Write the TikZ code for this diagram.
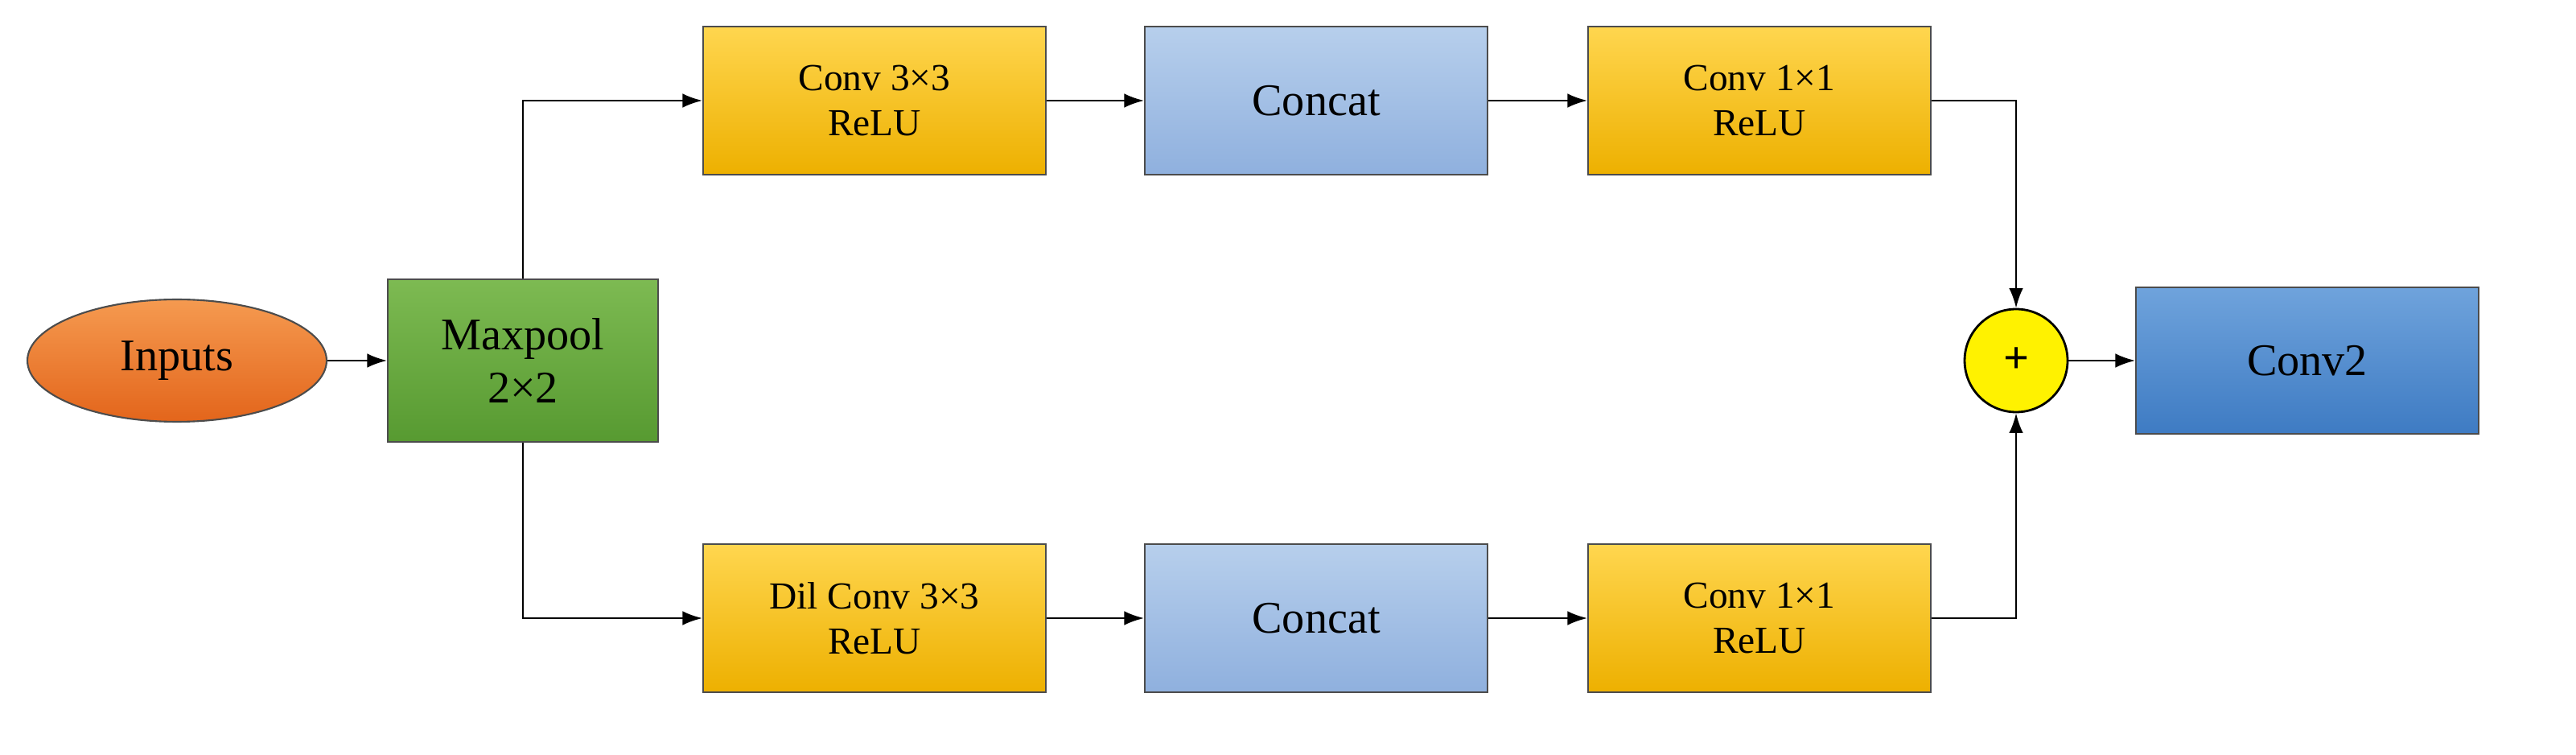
\documentclass[tikz,border=0pt]{standalone}
\usepackage{fontspec}
\setmainfont{Liberation Serif}
\usetikzlibrary{shapes.geometric,arrows.meta}
\begin{document}
\begin{tikzpicture}[x=0.02cm,y=-0.02cm,
 box/.style={draw=black!70,line width=0.6pt,minimum width=4.26cm,minimum height=1.84cm,align=center,inner sep=0pt},
 yel/.style={box,font=\fontsize{13.5pt}{16pt}\selectfont},
 blu/.style={box,font=\fontsize{16pt}{19pt}\selectfont},
 arr/.style={-{Latex[length=7pt,width=5pt]},line width=0.6pt}]
\useasboundingbox (0,0) rectangle (1601,469);
\definecolor{yt}{HTML}{FFD64F}\definecolor{yb}{HTML}{EDB000}
\definecolor{bt}{HTML}{B7CFEC}\definecolor{bb}{HTML}{8FB0DE}
\definecolor{ot}{HTML}{F59A50}\definecolor{ob}{HTML}{E3651B}
\definecolor{gt}{HTML}{7DBA52}\definecolor{gb}{HTML}{579A31}
\definecolor{ct}{HTML}{6FA3DC}\definecolor{cb}{HTML}{3E7BC3}
\tikzset{yel/.append style={top color=yt,bottom color=yb},blu/.append style={top color=bt,bottom color=bb}}
\node[ellipse,draw=black!70,line width=0.6pt,top color=ot,bottom color=ob,minimum width=3.72cm,minimum height=1.52cm,font=\fontsize{16pt}{19pt}\selectfont] (in) at (110,224) {Inputs};
\node[box,top color=gt,bottom color=gb,minimum width=3.36cm,minimum height=2.02cm,font=\fontsize{16pt}{19pt}\selectfont] (mp) at (325,224) {Maxpool\\2×2};
\node[yel] (c1) at (543.5,62.5) {Conv 3×3\\ReLU};
\node[blu] (k1) at (818,62.5) {Concat};
\node[yel] (d1) at (1093.5,62.5) {Conv 1×1\\ReLU};
\node[yel] (c2) at (543.5,384) {Dil Conv 3×3\\ReLU};
\node[blu] (k2) at (818,384) {Concat};
\node[yel] (d2) at (1093.5,384) {Conv 1×1\\ReLU};
\node[circle,draw=black,line width=0.8pt,fill=yellow,minimum size=1.28cm,inner sep=0pt,font=\bfseries\fontsize{16pt}{19pt}\selectfont] (p) at (1253,224) {+};
\node[box,top color=ct,bottom color=cb,minimum height=1.82cm,font=\fontsize{16pt}{19pt}\selectfont] (o) at (1434,224) {Conv2};
\draw[arr] (in) -- (mp);
\draw[arr] (mp.north) |- (c1);
\draw[arr] (mp.south) |- (c2);
\draw[arr] (c1) -- (k1);
\draw[arr] (k1) -- (d1);
\draw[arr] (c2) -- (k2);
\draw[arr] (k2) -- (d2);
\draw[arr] (d1) -| (p);
\draw[arr] (d2) -| (p);
\draw[arr] (p) -- (o);
\end{tikzpicture}
\end{document}
